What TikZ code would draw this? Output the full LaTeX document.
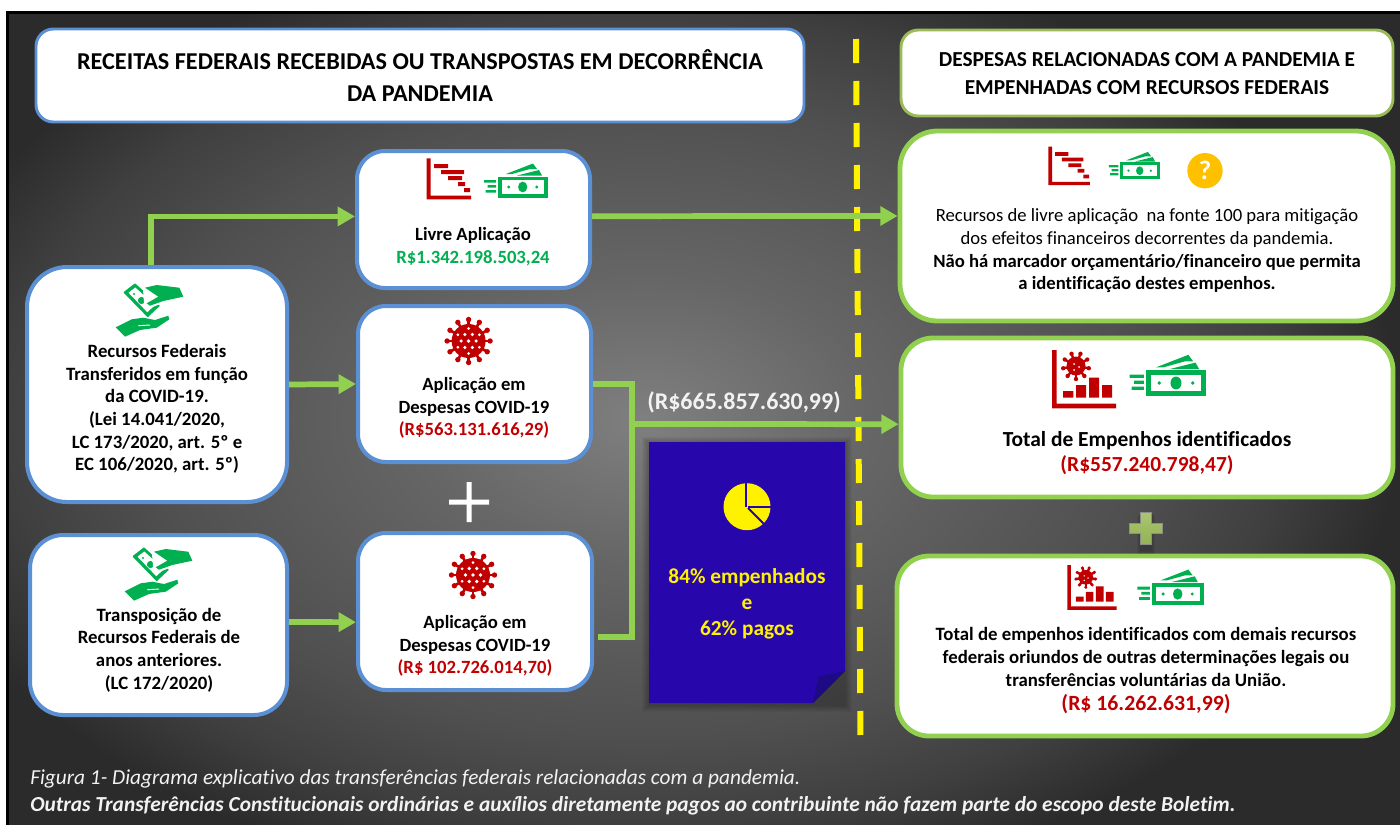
\documentclass[tikz,border=0pt]{standalone}
\usepackage{fontspec}
\setmainfont[Ligatures=NoCommon]{Carlito}
\usetikzlibrary{arrows.meta,fit}
\definecolor{bluelin}{HTML}{5B90D5}
\definecolor{greenlin}{HTML}{92D050}
\definecolor{olivelin}{HTML}{9BBB59}
\definecolor{moneyg}{HTML}{00B050}
\definecolor{darkred}{HTML}{C00000}
\definecolor{paper}{HTML}{2706AB}
\definecolor{paperd}{HTML}{1F0A85}
\definecolor{questc}{HTML}{FFC000}
\definecolor{bgE}{HTML}{2B2B2B}
\newcommand{\fs}[2]{\fontsize{#1}{#2}\selectfont}
\tikzset{
 x=0.75pt,y=-0.75pt,
 bluebox/.style={draw=bluelin,line width=3pt,fill=white,inner sep=0pt},
 greenbox/.style={draw=greenlin,line width=3.6pt,fill=white,inner sep=0pt},
 titleblue/.style={draw=bluelin,line width=2.2pt,fill=white,inner sep=0pt,rounded corners=13pt},
 titleolive/.style={draw=olivelin,line width=2.2pt,fill=white,inner sep=0pt,rounded corners=13pt},
 txt/.style={align=center,inner sep=0pt,text=black},
 conn/.style={draw=greenlin,line width=4.3pt},
 arr/.style={conn,-{Triangle[length=13pt,width=14pt]}},
 moneyicon/.pic={
  \fill[moneyg] (-25,-10.5) rectangle (25,10.5);
  \fill[white] (-21,-7) rectangle (21,7);
  \fill[moneyg] (0,0) ellipse [x radius=4.6,y radius=5.4];
  \fill[moneyg] (-14,0) circle [radius=1.6] (14,0) circle [radius=1.6];
  \fill[moneyg] (-38.7,-7) rectangle (-26.7,-4.3) (-35,-2) rectangle (-26.7,0.7) (-37,3) rectangle (-26.7,5.7);
  \fill[moneyg] (-16.7,-13) -- (10.3,-23.5) -- (14.3,-18) -- (7.3,-18) -- (-10.7,-13) -- cycle;
  \fill[moneyg] (-5.7,-11.5) -- (16.3,-17) -- (19.3,-11.5) -- cycle;
 },
 ganttaxis/.pic={
  \fill[darkred] (0,0) rectangle (4,41) (0,37.4) rectangle (44.3,41);
  \fill[darkred] (7.3,5.7) rectangle (21.3,9.7) (14.3,11.7) rectangle (37.3,15.7) (21.3,17.7) rectangle (35.3,21.7) (31.3,23.7) rectangle (38.3,27.7) (37.3,29.7) rectangle (43.3,33.7);
 },
 chartvirus/.pic={
  \fill[darkred] (0,0) rectangle (4.7,58.3) (0,53.6) rectangle (64,58.3);
  \fill[darkred] (11,41) rectangle (21.3,47.7) (24,35) rectangle (34,47.7) (37,27.7) rectangle (47,47.7) (50,35) rectangle (60,47.7);
  \foreach \a in {10,50,90,130,170,210,250,290,330}{
   \draw[darkred,line width=1.8pt] (24,16) -- ++(\a:13);
   \fill[darkred] (24,16) ++(\a:13) circle [radius=2.2];
  }
  \fill[darkred] (24,16) circle [radius=9.5];
  \fill[white] (22,14) circle [radius=1] (27,17) circle [radius=1] (22,20) circle [radius=1];
 },
 virusicon/.pic={
  \foreach \a in {0,30,...,330}{
   \draw[darkred,line width=2pt] (0,0) -- (\a:21);
   \fill[darkred] (\a:21.5) circle [radius=2.7];
  }
  \fill[darkred] (0,0) circle [radius=17];
  \fill[white] (0,0) circle [radius=1.9];
  \foreach \a in {0,60,...,300}{\fill[white] (\a:7.5) circle [radius=1.8];}
  \foreach \a in {30,90,...,330}{\fill[white] (\a:12.5) circle [radius=1.5];}
 },
 handicon/.pic={
  \fill[moneyg,rounded corners=0.5pt] (23.3,17.3) -- (35,8.3) -- (60,30.7) -- (47.7,42.3) -- cycle;
  \fill[white] (28.5,17.7) -- (35.3,12.5) -- (54.8,30.2) -- (47.3,37.2) -- cycle;
  \fill[moneyg] (41.5,25.5) circle [radius=3.6];
  \fill[moneyg] (34,19) circle [radius=1.2];
  \fill[white] (43,15) -- (57,9.5) -- (82,13) -- (86,23) -- (65,27) -- (48,34) -- (44,27) -- cycle;
  \fill[moneyg] (45,12.7) -- (56.7,10) -- (79.3,12.7) -- (83.3,21.7) -- (63.3,26) -- (50,30.7) -- (46.7,28.3) -- (58.3,21.7) -- (53.3,18.3) -- cycle;
  \fill[moneyg] (15.7,52.3) -- (31.7,44.3) -- (43.3,42.7) -- (55,45) -- (68.3,40.7) -- (69.3,44.3) -- (56.7,52.7) -- (40,55) -- (25,61.7) -- cycle;
  \draw[white,line width=0.7pt] (38.3,50.7) -- (50,50);
 },
 piesep/.style={draw=paper,line width=1.5pt},
}
\begin{document}
\begin{tikzpicture}
\useasboundingbox (0,0) rectangle (1400,825);
\fill[white] (0,0) rectangle (1400,825);
\fill[black] (6,11) rectangle (1400,825);
\begin{scope}
 \clip (9,14) rectangle (1400,825);
 \fill[bgE] (9,14) rectangle (1400,825);
 % soft elliptical glow, one ellipse per grey level, from the outside in
 \foreach \g in {44,...,128}{
  \pgfmathsetmacro{\rr}{\g>=102 ? 0.3*(128-\g)/26 : (\g>=80 ? 0.3+0.36*(102-\g)/22 : (\g>=64 ? 0.66+0.18*(80-\g)/16 : 0.84+0.16*(64-\g)/21))}
  \pgfmathtruncatemacro{\gi}{\g}
  \definecolor{bgstep}{RGB}{\gi,\gi,\gi}
  \fill[bgstep] (645,420) ellipse [x radius={760*\rr+0.5},y radius={480*\rr+0.5}];
 }
\end{scope}

% yellow divider
\coordinate (divtop) at (856,39);
\coordinate (divbot) at (860.5,737);
\draw[yellow,line width=4.5pt,dash pattern=on 18pt off 13.5pt] (divtop) -- (divbot);

% titles
\node[titleblue,fit={(36,29)(804,122)}] (title1) {};
\node[txt,font=\bfseries\fs{18.15}{24}] (title1t) at (420,76) {RECEITAS FEDERAIS RECEBIDAS OU TRANSPOSTAS EM DECORRÊNCIA\\DA PANDEMIA};
\node[titleolive,fit={(901,30)(1393,116)}] (title2) {};
\node[txt,font=\bfseries\fs{16}{21}] (title2t) at (1147,74) {DESPESAS RELACIONADAS COM A PANDEMIA E\\EMPENHADAS COM RECURSOS FEDERAIS};

% boxes
\node[bluebox,rounded corners=21pt,fit={(357,151)(590,288)}] (livre) {};
\node[bluebox,rounded corners=21pt,fit={(358,306)(591,462)}] (apl1) {};
\node[bluebox,rounded corners=21pt,fit={(358,533)(592,690)}] (apl2) {};
\node[bluebox,rounded corners=30pt,fit={(27,267)(287,502)}] (left1) {};
\node[bluebox,rounded corners=25pt,fit={(30,535)(287,715)}] (left2) {};
\node[greenbox,rounded corners=28pt,fit={(900,131)(1393,321)}] (right1) {};
\node[greenbox,rounded corners=24pt,fit={(901,338)(1393,497)}] (right2) {};
\node[greenbox,rounded corners=24pt,fit={(897,556)(1393,736)}] (right3) {};

% connectors
\coordinate (junc) at (632,424);
\draw[arr] ([xshift=-4.7pt]left1.north) |- ([yshift=2.3pt]livre.west);
\draw[arr] (left1.east) -- (apl1.west);
\draw[arr] ([yshift=2.25pt]left2.east) -- ([yshift=-8pt]apl2.west);
\draw[arr] ([yshift=2.5pt]livre.east) -- ([yshift=7.5pt]right1.west);
\draw[conn] (apl1.east) -| (junc);
\draw[conn] ([shift={(3pt,-19pt)}]apl2.east) -| (junc);
\draw[arr] (junc) ++(-2,0) -- ([yshift=-5pt]right2.west);

% amount on the connector
\node[txt,text=white!95!black,font=\bfseries\fs{18}{22}] (total) at (744,402) {(R\$665.857.630,99)};

% plus signs
\fill[white] (449,499.5) rectangle (489,504.5) (466.5,482) rectangle (471.5,522);
\foreach \i in {1,...,4}{\fill[black,opacity=.06] (1140.5-\i,512+\i) rectangle (1151+\i,550+\i);}
\draw[black!45,line width=0.4pt,top color=olivelin!85!white,bottom color=olivelin!95!black] (1140.5,512) -- (1151,512) -- (1151,523) -- (1162,523) -- (1162,533.5) -- (1151,533.5) -- (1151,544.5) -- (1140.5,544.5) -- (1140.5,533.5) -- (1129.5,533.5) -- (1129.5,523) -- (1140.5,523) -- cycle;

% paper note
\foreach \i in {1,...,7}{\fill[black,opacity=.035] (649-\i,442-\i+2) rectangle (845+\i,703+\i+2);}
\fill[paper] (649,442) -- (845,442) -- (845,671) -- (813,703) -- (649,703) -- cycle;
\fill[paperd] (818.5,676.5) -- (845,671) -- (813,703) -- cycle;
\fill[yellow] (747,506.7) circle [radius=23.5];
\draw[piesep] (746,506.7) -- (746,482);
\draw[piesep] (748,506.7) -- (772,506.7);
\draw[piesep] (748,508) -- (764,524);
\node[txt,text=yellow,font=\bfseries\fs{16}{19.7}] (papert) at (747,604) {84\% empenhados\\e\\62\% pagos};

% texts left and middle
\node[txt,font=\bfseries\fs{14.1}{17}] (left1t) at (157,409) {Recursos Federais\\Transferidos em função\\da COVID-19.\\(Lei 14.041/2020,\\LC 173/2020, art. 5º e\\EC 106/2020, art. 5º)};
\node[txt,font=\bfseries\fs{14.1}{17}] (left2t) at (159,650) {Transposição de\\Recursos Federais de\\anos anteriores.\\(LC 172/2020)};
\node[txt,font=\bfseries\fs{14}{17}] (livret) at (473,247) {Livre Aplicação\\\textcolor{moneyg}{R\$1.342.198.503,24}};
\node[txt,font=\bfseries\fs{14}{17}] (apl1t) at (474,408) {Aplicação em\\Despesas COVID-19\\\textcolor{darkred}{(R\$563.131.616,29)}};
\node[txt,font=\bfseries\fs{14}{17}] (apl2t) at (475,646) {Aplicação em\\Despesas COVID-19\\\textcolor{darkred}{(R\$ 102.726.014,70)}};

% texts right
\node[txt,font=\fs{14}{17}] (right1t) at (1147,251) {Recursos de livre aplicação\ \ na fonte 100 para mitigação\\dos efeitos financeiros decorrentes da pandemia.\\\textbf{Não há marcador orçamentário/financeiro que permita}\\\textbf{a identificação destes empenhos.}};
\node[txt,font=\bfseries\fs{16.1}{19}] (right2t) at (1147,453) {Total de Empenhos identificados\\\textcolor{darkred}{(R\$557.240.798,47)}};
\node[txt,font=\bfseries\fs{14.1}{17}] (right3t) at (1146,657) {Total de empenhos identificados com demais recursos\\federais oriundos de outras determinações legais ou\\transferências voluntárias da União.};
\node[txt,text=darkred,font=\bfseries\fs{16.3}{19}] (right3v) at (1146,704) {(R\$ 16.262.631,99)};

% question mark
\node[circle,fill=questc,minimum size=26.5pt,inner sep=0pt,text=white,font=\bfseries\fs{20}{24}] (quest) at (1205,170.7) {?};

% caption
\node[anchor=west,inner sep=0pt,text=white!95!black,font=\itshape\fs{16}{19}] (cap1) at (30,779) {Figura 1- Diagrama explicativo das transferências federais relacionadas com a pandemia.};
\node[anchor=west,inner sep=0pt,text=white!95!black,font=\bfseries\itshape\fs{16.05}{19}] (cap2) at (30,806) {Outras Transferências Constitucionais ordinárias e auxílios diretamente pagos ao contribuinte não fazem parte do escopo deste Boletim.};

% icons
\pic at (426.7,158.3) {ganttaxis};
\pic at (522.7,187) {moneyicon};
\pic[scale=0.94] at (1048.3,146.7) {ganttaxis};
\pic[scale=0.8] at (1139.7,170.7) {moneyicon};
\pic at (1052,350) {chartvirus};
\pic[scale=1.2] at (1176,383) {moneyicon};
\pic[scale=0.77] at (1067.3,565) {chartvirus};
\pic[scale=1.04] at (1177.7,594) {moneyicon};
\pic at (468.6,341) {virusicon};
\pic at (473,575) {virusicon};
\pic at (100,275) {handicon};
\pic at (109,539) {handicon};
\end{tikzpicture}
\end{document}
